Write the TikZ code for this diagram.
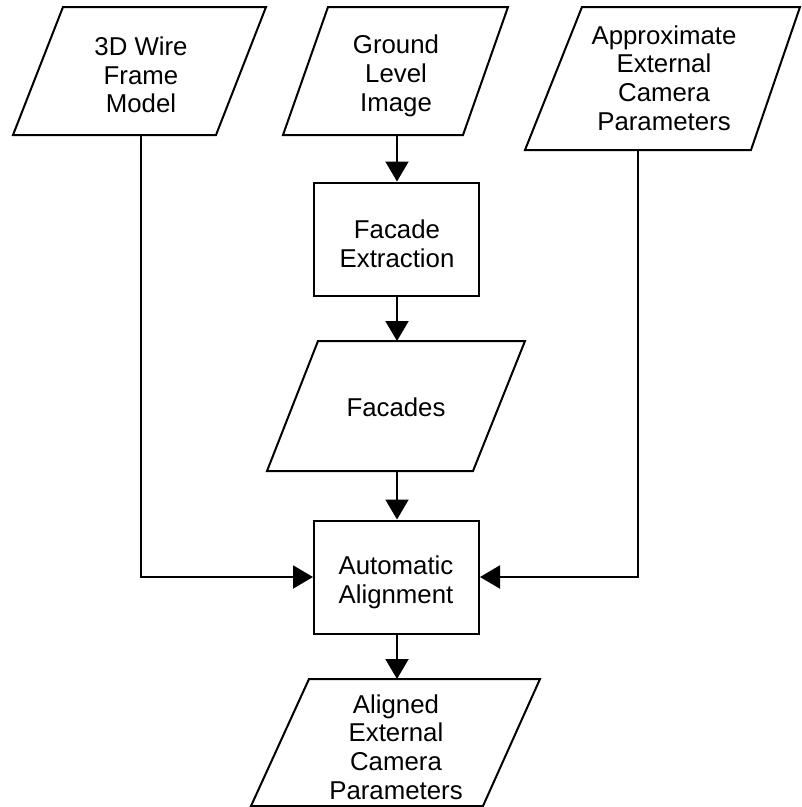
\documentclass[tikz,border=0pt]{standalone}
\usepackage{fontspec}
\setmainfont{Liberation Sans}
\usetikzlibrary{arrows.meta}
\begin{document}
\begin{tikzpicture}[x=1pt,y=-1pt,
  outline/.style={line width=2pt, line join=miter},
  procbox/.style={draw, line width=2pt, minimum width=165pt, minimum height=113pt, inner sep=0pt},
  label/.style={font=\fontsize{25.8}{28.75}\selectfont, align=center, inner sep=0pt},
  flow/.style={line width=2pt, -{Triangle[length=20pt,width=23pt]}}]
\useasboundingbox (0,0) rectangle (802,807);

% input data (parallelograms)
\draw[outline] (63,7) -- (266,7) -- (216,135) -- (13,135) -- cycle;
\node[label] (wire) at (141,75) {3D Wire\\Frame\\Model};

\draw[outline] (328,7) -- (508,7) -- (463,135) -- (283,135) -- cycle;
\node[label] (ground) at (396,76) {Ground\\Level\\Image};

\draw[outline] (582,7) -- (800,7) -- (751,150) -- (525,150) -- cycle;
\node[label] (approx) at (664,78) {Approximate\\External\\Camera\\Parameters};

% processing steps
\node[procbox] (fe) at (396.5,239) {};
\node[label] (fetext) at (397,244) {Facade\\Extraction};

\draw[outline] (318,341) -- (525,341) -- (473,471) -- (267,471) -- cycle;
\node[label] (facades) at (396,407) {Facades};

\node[procbox] (aa) at (396.5,577) {};
\node[label] (aatext) at (396,582) {Automatic\\Alignment};

\draw[outline] (309,679) -- (540,679) -- (483,806) -- (251,806) -- cycle;
\node[label] (aligned) at (396,747) {Aligned\\External\\Camera\\Parameters};

% connection points on the parallelogram edges
\coordinate (wireout) at (140.5,135);
\coordinate (groundout) at (397,135);
\coordinate (approxout) at (638,150);
\coordinate (facadesin) at (397,341);
\coordinate (facadesout) at (397,471);
\coordinate (alignedin) at (397,679);

% data flow
\draw[flow] (groundout) -- (groundout |- fe.north);
\draw[flow] (fe.south -| facadesin) -- (facadesin);
\draw[flow] (facadesout) -- (facadesout |- aa.north);
\draw[flow] (aa.south -| alignedin) -- (alignedin);
\draw[flow] (wireout) |- (aa.west);
\draw[flow] (approxout) |- (aa.east);
\end{tikzpicture}
\end{document}
